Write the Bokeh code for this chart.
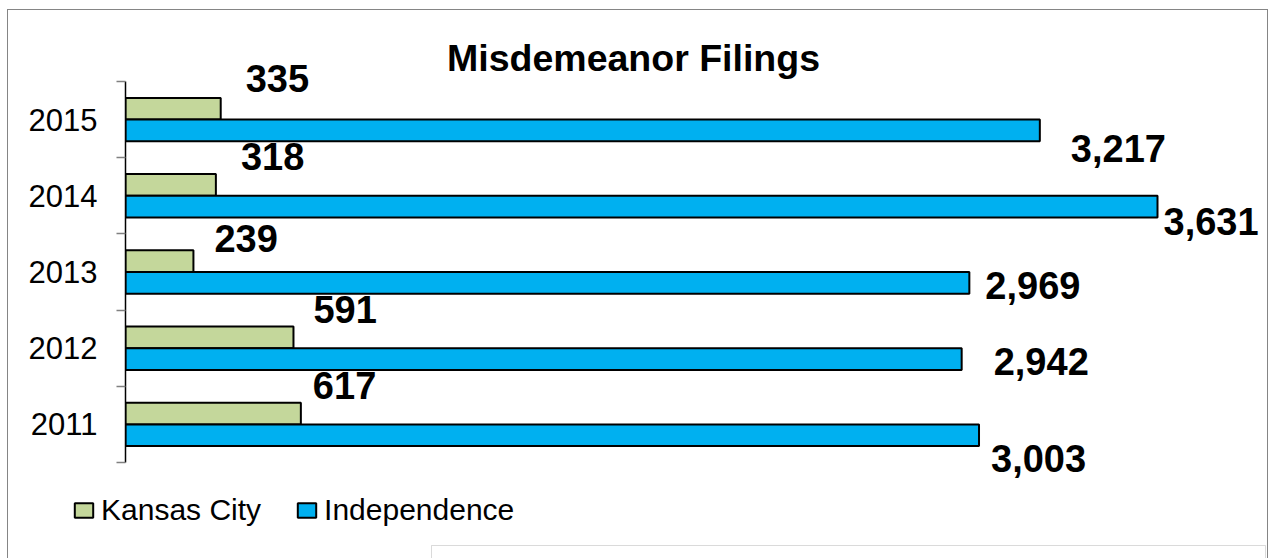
from bokeh.plotting import figure
from bokeh.layouts import column
from bokeh.models import (Range1d, FixedTicker, Label, Legend, LegendItem,
                          ColumnDataSource, BoxAnnotation)
from bokeh.core.properties import value
from bokeh.embed import file_html
from bokeh.resources import INLINE

# ---------------- data ----------------
years = ["2011", "2012", "2013", "2014", "2015"]
kansas_city = [617, 591, 239, 318, 335]
independence = [3003, 2942, 2969, 3631, 3217]
title_text = "Misdemeanor Filings"
series_names = ["Kansas City", "Independence"]

# label placement nudges in pixels (style, not data)
kc_dx = [12, 20, 21, 25, 25]
kc_dy = [-28, -28, -23, -28, -30]
ind_dx = [12, 32, 16, 6, 31]
ind_dy = [23, 2, 3, 15, 18]

FONT = "Liberation Sans"
GREEN = "#C4D79B"
BLUE = "#00B0F0"
BORDER = "#858585"
BAR_H = 0.285

W = 1261            # chart width (page x 7..1268)
LEFT = 7
TOP = 9
H_MAIN = 471        # main plot height (page y 9..480)
H_LEG = 78          # legend strip height (page y 480..558)
PX_PER_UNIT = (1157 - 125) / 3631.0
BAND_PX = 76.2

n = len(years)
centers = [i + 0.5 for i in range(n)]
src = ColumnDataSource(dict(
    y_kc=[c + BAR_H / 2 for c in centers],
    y_ind=[c - BAR_H / 2 for c in centers],
    kc=kansas_city,
    ind=independence,
    kc_lbl=[f"{v:,}" for v in kansas_city],
    ind_lbl=[f"{v:,}" for v in independence],
    kc_dx=kc_dx, kc_dy=kc_dy, ind_dx=ind_dx, ind_dy=ind_dy,
))

frame_left = 125 - LEFT
frame_bottom_page = TOP + H_MAIN
x_end = (W - frame_left) / PX_PER_UNIT
y_top = n + (81 - TOP) / BAND_PX
y_bot = -(frame_bottom_page - 462) / BAND_PX

p = figure(width=W, height=H_MAIN, output_backend="svg", toolbar_location=None,
           x_range=Range1d(0, x_end), y_range=Range1d(y_bot, y_top),
           min_border_left=frame_left, min_border_right=0,
           min_border_top=0, min_border_bottom=0)
p.outline_line_color = None
p.background_fill_alpha = 0
p.border_fill_alpha = 0
p.xgrid.visible = False
p.ygrid.visible = False
p.xaxis.visible = False

yax = p.yaxis[0]
yax.bounds = (0, n)
yax.ticker = FixedTicker(ticks=centers, minor_ticks=list(range(n + 1)))
yax.major_label_overrides = {c: y for c, y in zip(centers, years)}
yax.major_tick_out = 0
yax.major_tick_in = 0
yax.minor_tick_out = 9
yax.minor_tick_in = 0
yax.minor_tick_line_color = "#808080"
yax.minor_tick_line_width = 1.5
yax.axis_line_color = "black"
yax.axis_line_width = 1.5
yax.major_label_text_font = FONT
yax.major_label_text_font_size = "31px"
yax.major_label_text_color = "black"
yax.major_label_standoff = 19

bar_kw = dict(left=0, height=BAR_H, line_color="black", line_width=2)
p.hbar(y="y_kc", right="kc", source=src, fill_color=GREEN, **bar_kw)
p.hbar(y="y_ind", right="ind", source=src, fill_color=BLUE, **bar_kw)

lbl_kw = dict(text_font=value(FONT), text_font_size="38px", text_font_style="bold",
              text_align="left", text_baseline="middle", text_color="black")
p.text(x="kc", y="y_kc", text="kc_lbl", source=src, x_offset="kc_dx", y_offset="kc_dy", **lbl_kw)
p.text(x="ind", y="y_ind", text="ind_lbl", source=src, x_offset="ind_dx", y_offset="ind_dy", **lbl_kw)

# title (frame-relative screen units: origin at frame bottom-left)
p.add_layout(Label(x=633 - 125, y=frame_bottom_page - 57, x_units="screen", y_units="screen",
                   text=title_text, text_font=FONT, text_font_size="37.5px",
                   text_font_style="bold", text_align="center",
                   text_baseline="middle", text_color="black"))

# ---------------- legend strip with the lower box ----------------
p2 = figure(width=W, height=H_LEG, output_backend="svg", toolbar_location=None,
            x_range=p.x_range, y_range=p.y_range,
            min_border_left=0, min_border_right=0, min_border_top=0, min_border_bottom=0)
p2.outline_line_color = None
p2.xaxis.visible = False
p2.yaxis.visible = False
p2.grid.visible = False
p2.background_fill_alpha = 0
p2.border_fill_alpha = 0
for fig in (p, p2):
    try:
        fig.frame_align = False
    except Exception:
        pass

# legend proxies: same bars, hidden in this strip, shown only as legend keys
l_kc = p2.hbar(y="y_kc", right="kc", source=src, fill_color=GREEN, visible=False, **bar_kw)
l_ind = p2.hbar(y="y_ind", right="ind", source=src, fill_color=BLUE, visible=False, **bar_kw)

legend = Legend(items=[LegendItem(label=series_names[0], renderers=[l_kc]),
                       LegendItem(label=series_names[1], renderers=[l_ind])],
                orientation="horizontal", location=(72 - LEFT, 31),
                glyph_width=23, glyph_height=18, label_standoff=6, spacing=34,
                padding=0, margin=0, border_line_color=None, background_fill_alpha=0,
                inactive_fill_alpha=0,
                label_text_font=FONT, label_text_font_size="30px", label_text_color="black")
p2.add_layout(legend, "center")

p2.add_layout(BoxAnnotation(left=431 - LEFT, right=1265 - LEFT,
                            top=(TOP + H_MAIN + H_LEG) - 545, bottom=-10,
                            left_units="screen", right_units="screen",
                            top_units="screen", bottom_units="screen",
                            fill_color="white", fill_alpha=1,
                            line_color=BORDER, line_width=1))

# outer chart border on three sides (its bottom edge lies below the window)
layout = column(p, p2, spacing=0, margin=(TOP, 0, 0, LEFT),
                styles={"background-color": "white",
                        "box-shadow": f"inset 1px 1px 0 {BORDER}, inset -1px 0 0 {BORDER}"})

open("out.html", "w").write(file_html(layout, INLINE))
